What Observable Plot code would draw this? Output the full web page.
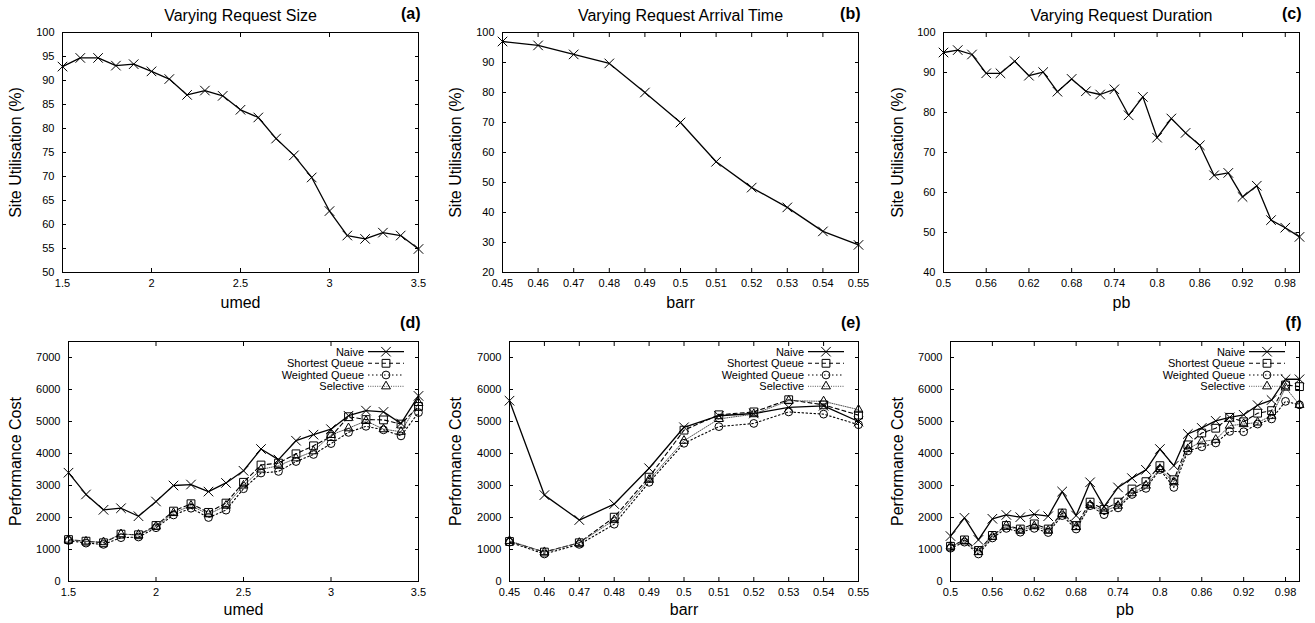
<!DOCTYPE html>
<html><head><meta charset="utf-8">
<script src="https://cdn.jsdelivr.net/npm/d3@7"></script>
<script src="https://cdn.jsdelivr.net/npm/@observablehq/plot@0.6"></script>
<style>
body{margin:0;background:#fff;}
#wrap{position:relative;width:1315px;height:623px;overflow:hidden;background:#fff;}
.panel{position:absolute;}
</style></head><body><div id="wrap"></div>
<script>
// ---------- data ----------
const umed = [1.5,1.6,1.7,1.8,1.9,2.0,2.1,2.2,2.3,2.4,2.5,2.6,2.7,2.8,2.9,3.0,3.1,3.2,3.3,3.4,3.5];
const barr = [0.45,0.46,0.47,0.48,0.49,0.50,0.51,0.52,0.53,0.54,0.55];
const pb = [0.50,0.52,0.54,0.56,0.58,0.60,0.62,0.64,0.66,0.68,0.70,0.72,0.74,0.76,0.78,0.80,0.82,0.84,0.86,0.88,0.90,0.92,0.94,0.96,0.98,1.00];

const utilSize = [92.9,94.7,94.7,93.1,93.4,91.9,90.3,87.0,87.9,86.8,83.9,82.3,77.9,74.4,69.8,62.8,57.7,57.0,58.3,57.7,54.9];
const utilArrival = [97.0,95.7,92.7,89.7,80.0,70.0,56.9,48.3,41.7,33.7,29.2];
const utilDuration = [95.0,95.6,94.5,89.8,89.8,92.8,89.2,90.1,85.2,88.4,85.3,84.5,85.8,79.3,83.9,73.7,78.5,74.9,71.8,64.3,64.9,58.9,61.7,53.1,51.2,48.9];

const costSizeNaive     = [3400,2720,2240,2290,2040,2500,3000,3030,2810,3080,3460,4140,3810,4400,4590,4760,5180,5340,5300,4940,5800];
const costSizeShortest  = [1310,1260,1210,1480,1460,1750,2200,2430,2160,2450,3100,3640,3700,3990,4240,4530,5150,5060,5050,4920,5470];
const costSizeWeighted  = [1280,1200,1160,1370,1390,1680,2080,2290,2000,2230,2900,3390,3440,3750,3970,4310,4660,4850,4740,4550,5280];
const costSizeSelective = [1310,1250,1230,1480,1460,1720,2140,2370,2100,2370,3000,3500,3620,3850,4070,4580,4790,5020,4760,4680,5580];

const costArrivalNaive     = [5650,2700,1920,2420,3540,4820,5180,5250,5440,5490,5000];
const costArrivalShortest  = [1250,920,1210,2010,3260,4730,5210,5300,5680,5520,5200];
const costArrivalWeighted  = [1230,860,1160,1790,3100,4320,4840,4940,5300,5230,4900];
const costArrivalSelective = [1270,920,1210,1920,3180,4400,5080,5230,5650,5630,5370];

const costDurationNaive     = [1420,1990,1300,1960,2080,2010,2100,2040,2810,2060,3100,2340,2940,3230,3490,4140,3620,4610,4800,5020,5130,5210,5510,5670,6320,6320];
const costDurationShortest  = [1100,1300,970,1440,1750,1640,1800,1640,2140,1750,2480,2250,2480,2890,3120,3620,3180,4270,4640,4790,5130,4990,5260,5340,6140,6090];
const costDurationWeighted  = [1040,1230,860,1360,1660,1540,1660,1530,2060,1640,2370,2090,2300,2720,2910,3500,2940,4080,4210,4330,4690,4680,4920,5080,5630,5520];
const costDurationSelective = [1100,1260,920,1400,1750,1590,1730,1590,2110,1700,2390,2200,2370,2760,3000,3520,3100,4140,4380,4430,4870,4920,4970,5180,6060,5520];

const seriesNames = ["Naive","Shortest Queue","Weighted Queue","Selective"];

const umedTicks = [1.5,2,2.5,3,3.5];
const umedTickLabels = ["1.5","2","2.5","3","3.5"];
const barrTicks = [0.45,0.46,0.47,0.48,0.49,0.5,0.51,0.52,0.53,0.54,0.55];
const barrTickLabels = ["0.45","0.46","0.47","0.48","0.49","0.5","0.51","0.52","0.53","0.54","0.55"];
const pbTicks = [0.5,0.56,0.62,0.68,0.74,0.8,0.86,0.92,0.98];
const pbTickLabels = ["0.5","0.56","0.62","0.68","0.74","0.8","0.86","0.92","0.98"];
const utilSizeTicks = [50,55,60,65,70,75,80,85,90,95,100];
const utilArrivalTicks = [20,30,40,50,60,70,80,90,100];
const utilDurationTicks = [40,50,60,70,80,90,100];
const costTicks = [0,1000,2000,3000,4000,5000,6000,7000];

const titles = ["Varying Request Size","Varying Request Arrival Time","Varying Request Duration"];
const tags = ["(a)","(b)","(c)","(d)","(e)","(f)"];

// ---------- styles ----------
const FONT = "'Liberation Sans', Arial, Helvetica, sans-serif";
const styles = [
  {symbol: "times",    r: 4.4, dash: null,      stroke: "#000", sw: 1.3},
  {symbol: "square",   r: 4.4, dash: "4,3",     stroke: "#000", sw: 1.1},
  {symbol: "circle",   r: 3.9, dash: "1.5,2.5", stroke: "#000", sw: 1.1},
  {symbol: "triangle", r: 3.3, dash: "1,1.3",   stroke: "#555", sw: 1.0}
];
const legendRowDy = [10.7, 22.3, 34, 45.3];
const symbolFns = {times: d3.symbolTimes, square: d3.symbolSquare, circle: d3.symbolCircle, triangle: d3.symbolTriangle};

function legendMark(names) {
  return (index, scales, values, dims) => {
    const g = d3.create("svg:g").attr("font-size", 11).attr("font-family", FONT);
    const xr = dims.width - dims.marginRight;
    names.forEach((n, i) => {
      const s = styles[i];
      const y = dims.marginTop + legendRowDy[i];
      g.append("text").attr("x", xr - 54).attr("y", y).attr("dy", "0.35em")
        .attr("text-anchor", "end").attr("fill", "#000").text(n);
      g.append("line").attr("x1", xr - 50).attr("x2", xr - 14).attr("y1", y).attr("y2", y)
        .attr("stroke", s.stroke).attr("stroke-width", s.sw)
        .attr("stroke-dasharray", s.dash);
      g.append("path").attr("transform", `translate(${xr - 32},${y})`)
        .attr("d", d3.symbol(symbolFns[s.symbol], Math.PI * s.r * s.r)())
        .attr("fill", "none").attr("stroke", "#000").attr("stroke-width", 1);
    });
    return g.node();
  };
}

function makePanel(cfg) {
  const rows = [];
  cfg.series.forEach((ys, si) => ys.forEach((v, i) => rows.push({x: cfg.xs[i], y: v, s: si})));
  const marks = [
    Plot.frame({stroke: "#000", strokeWidth: 1}),
    Plot.axisX(cfg.xTicks, {anchor: "bottom", tickSize: -4, tickPadding: 11, label: null,
      tickFormat: d => cfg.xTickLabels[cfg.xTicks.indexOf(d)], fontSize: 11}),
    Plot.axisX(cfg.xTicks, {anchor: "top", tickSize: -4, label: null, tickFormat: () => ""}),
    Plot.axisY(cfg.yTicks, {anchor: "left", tickSize: -4, tickPadding: 12, label: null,
      tickFormat: d => String(d), fontSize: 11}),
    Plot.axisY(cfg.yTicks, {anchor: "right", tickSize: -4, label: null, tickFormat: () => ""})
  ];
  cfg.series.forEach((ys, si) => {
    const st = styles[si];
    const data = rows.filter(r => r.s === si);
    marks.push(Plot.line(data, {x: "x", y: "y", stroke: st.stroke, strokeWidth: st.sw, strokeDasharray: st.dash}));
  });
  cfg.series.forEach((ys, si) => {
    const st = styles[si];
    const data = rows.filter(r => r.s === si);
    marks.push(Plot.dot(data, {x: "x", y: "y", symbol: st.symbol, r: st.r, stroke: "#000", strokeWidth: 1, fill: "none"}));
  });
  if (cfg.title) marks.push(Plot.text([cfg.title], {text: d => d, frameAnchor: "top", dy: -17, fontSize: 16, textAnchor: "middle", lineAnchor: "middle"}));
  marks.push(Plot.text([cfg.tag], {text: d => d, frameAnchor: "top-right", dx: 2, dy: -19, textAnchor: "end", lineAnchor: "middle", fontSize: 16, fontWeight: "bold"}));
  marks.push(Plot.text([cfg.xLabel], {text: d => d, frameAnchor: "bottom", dy: cfg.xLabelDy, fontSize: 16, textAnchor: "middle", lineAnchor: "middle"}));
  marks.push(Plot.text([cfg.yLabel], {text: d => d, frameAnchor: "left", dx: cfg.yLabelDx, rotate: -90, fontSize: 16, textAnchor: "middle", lineAnchor: "middle"}));
  if (cfg.legend) marks.push(legendMark(seriesNames));

  const svg = Plot.plot({
    width: cfg.width, height: cfg.height,
    marginLeft: cfg.m[0], marginRight: cfg.m[1], marginTop: cfg.m[2], marginBottom: cfg.m[3],
    x: {domain: cfg.xDomain},
    y: {domain: cfg.yDomain},
    style: {fontFamily: FONT, fontSize: "11px", color: "#000", background: "transparent", overflow: "visible"},
    marks
  });
  const div = document.createElement("div");
  div.className = "panel";
  div.style.left = cfg.left + "px";
  div.style.top = cfg.top + "px";
  div.appendChild(svg);
  document.getElementById("wrap").appendChild(div);
}

const topRow = {top: 0, height: 310, mt: 32, mb: 38, xLabelDy: 30};
const botRow = {top: 310, height: 313, mt: 31, mb: 42, xLabelDy: 28};

// (a)
makePanel({left: 0, top: topRow.top, width: 440, height: topRow.height, m: [62, 22, topRow.mt, topRow.mb],
  xs: umed, series: [utilSize], xDomain: [1.5, 3.5], yDomain: [50, 100],
  xTicks: umedTicks, xTickLabels: umedTickLabels, yTicks: utilSizeTicks,
  title: titles[0], tag: tags[0], xLabel: "umed", yLabel: "Site Utilisation (%)",
  xLabelDy: topRow.xLabelDy, yLabelDx: -47});
// (b)
makePanel({left: 440, top: topRow.top, width: 440, height: topRow.height, m: [62, 22, topRow.mt, topRow.mb],
  xs: barr, series: [utilArrival], xDomain: [0.45, 0.55], yDomain: [20, 100],
  xTicks: barrTicks, xTickLabels: barrTickLabels, yTicks: utilArrivalTicks,
  title: titles[1], tag: tags[1], xLabel: "barr", yLabel: "Site Utilisation (%)",
  xLabelDy: topRow.xLabelDy, yLabelDx: -47});
// (c)
makePanel({left: 880, top: topRow.top, width: 435, height: topRow.height, m: [63, 16, topRow.mt, topRow.mb],
  xs: pb, series: [utilDuration], xDomain: [0.5, 1.0], yDomain: [40, 100],
  xTicks: pbTicks, xTickLabels: pbTickLabels, yTicks: utilDurationTicks,
  title: titles[2], tag: tags[2], xLabel: "pb", yLabel: "Site Utilisation (%)",
  xLabelDy: topRow.xLabelDy, yLabelDx: -46});
// (d)
makePanel({left: 0, top: botRow.top, width: 440, height: botRow.height, m: [68, 22, botRow.mt, botRow.mb],
  xs: umed, series: [costSizeNaive, costSizeShortest, costSizeWeighted, costSizeSelective],
  xDomain: [1.5, 3.5], yDomain: [0, 7500],
  xTicks: umedTicks, xTickLabels: umedTickLabels, yTicks: costTicks,
  tag: tags[3], xLabel: "umed", yLabel: "Performance Cost", legend: true,
  xLabelDy: botRow.xLabelDy, yLabelDx: -53});
// (e)
makePanel({left: 440, top: botRow.top, width: 440, height: botRow.height, m: [69, 22, botRow.mt, botRow.mb],
  xs: barr, series: [costArrivalNaive, costArrivalShortest, costArrivalWeighted, costArrivalSelective],
  xDomain: [0.45, 0.55], yDomain: [0, 7500],
  xTicks: barrTicks, xTickLabels: barrTickLabels, yTicks: costTicks,
  tag: tags[4], xLabel: "barr", yLabel: "Performance Cost", legend: true,
  xLabelDy: botRow.xLabelDy, yLabelDx: -54});
// (f)
makePanel({left: 880, top: botRow.top, width: 435, height: botRow.height, m: [70, 16, botRow.mt, botRow.mb],
  xs: pb, series: [costDurationNaive, costDurationShortest, costDurationWeighted, costDurationSelective],
  xDomain: [0.5, 1.0], yDomain: [0, 7500],
  xTicks: pbTicks, xTickLabels: pbTickLabels, yTicks: costTicks,
  tag: tags[5], xLabel: "pb", yLabel: "Performance Cost", legend: true,
  xLabelDy: botRow.xLabelDy, yLabelDx: -53});
</script>
</body></html>
